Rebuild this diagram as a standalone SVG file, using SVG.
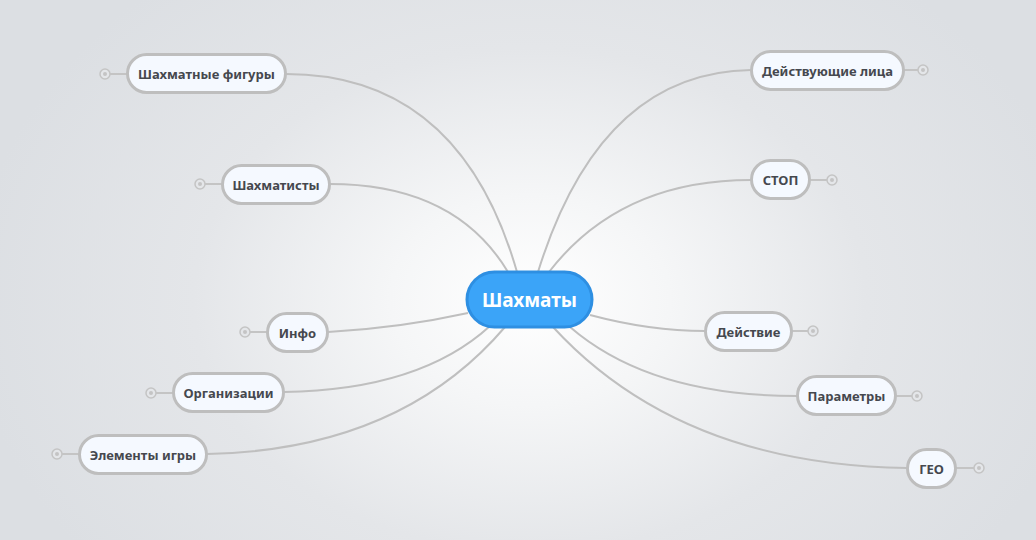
<svg xmlns="http://www.w3.org/2000/svg" width="1036" height="540" viewBox="0 0 1036 540">
<defs>
<radialGradient id="bg" cx="530" cy="300" r="560" gradientUnits="userSpaceOnUse" gradientTransform="translate(530 300) scale(1 0.75) translate(-530 -300)">
<stop offset="0" stop-color="#ffffff"/>
<stop offset="0.25" stop-color="#f5f6f7"/>
<stop offset="0.6" stop-color="#e4e6e9"/>
<stop offset="1" stop-color="#dcdfe3"/>
</radialGradient>
<style>
.conn{fill:none;stroke:#bfbfbf;stroke-width:2}
.node rect{fill:#f5f9ff;stroke:#bebebe;stroke-width:3}
.node text{font-family:"Noto Sans","Liberation Sans",sans-serif;font-weight:bold;font-size:13px;fill:#45484e;text-anchor:middle;dominant-baseline:central}
.stub{stroke:#c4c4c4;stroke-width:2}
.col{fill:#e4e6e9;stroke:#c4c4c4;stroke-width:1.5}
.dot{fill:#c4c4c4}
.root rect{fill:#3ba4f8;stroke:#2e8fe2;stroke-width:3}
.root text{font-family:"Noto Sans","Liberation Sans",sans-serif;font-weight:bold;font-size:19px;fill:#ffffff;text-anchor:middle;dominant-baseline:central}
</style>
</defs>
<rect width="1036" height="540" fill="url(#bg)"/>
<g id="connectors">
<path class="conn" d="M286,74 Q460,74 517,272"/>
<path class="conn" d="M330,184 Q455,184 508,272"/>
<path class="conn" d="M328,332 Q400,328 468,313"/>
<path class="conn" d="M284,392 Q420,390 490,326"/>
<path class="conn" d="M207,454 Q400,450 505,327"/>
<path class="conn" d="M751,70 Q600,72 538,272"/>
<path class="conn" d="M751,180 Q620,180 549,272"/>
<path class="conn" d="M705,331 Q650,331 590,315"/>
<path class="conn" d="M797,396 Q650,396 570,327"/>
<path class="conn" d="M907,468 Q680,465 553,327"/>
</g>
<g id="root" class="root">
<rect x="467" y="272" width="125" height="55" rx="27.5"/>
<text x="529.5" y="299.5">Шахматы</text>
</g>
<g id="n1" class="node">
<line class="stub" x1="110" y1="74" x2="127" y2="74"/><circle class="col" cx="105" cy="74" r="5"/><circle class="dot" cx="105" cy="74" r="2"/>
<rect x="127.5" y="54.5" width="158" height="38" rx="19"/>
<text x="206.5" y="73.5">Шахматные фигуры</text>
</g>
<g id="n2" class="node">
<line class="stub" x1="205" y1="184" x2="222" y2="184"/><circle class="col" cx="200" cy="184" r="5"/><circle class="dot" cx="200" cy="184" r="2"/>
<rect x="222.5" y="165.5" width="107" height="38" rx="19"/>
<text x="276" y="184.5">Шахматисты</text>
</g>
<g id="n3" class="node">
<line class="stub" x1="250" y1="332" x2="267" y2="332"/><circle class="col" cx="245" cy="332" r="5"/><circle class="dot" cx="245" cy="332" r="2"/>
<rect x="267.5" y="313.5" width="60" height="38" rx="19"/>
<text x="297.5" y="332.5">Инфо</text>
</g>
<g id="n4" class="node">
<line class="stub" x1="156" y1="393" x2="173" y2="393"/><circle class="col" cx="151" cy="393" r="5"/><circle class="dot" cx="151" cy="393" r="2"/>
<rect x="173.5" y="373.5" width="110" height="38" rx="19"/>
<text x="228.5" y="392.5">Организации</text>
</g>
<g id="n5" class="node">
<line class="stub" x1="62" y1="454" x2="79" y2="454"/><circle class="col" cx="57" cy="454" r="5"/><circle class="dot" cx="57" cy="454" r="2"/>
<rect x="79.5" y="435.5" width="127" height="38" rx="19"/>
<text x="143" y="454.5">Элементы игры</text>
</g>
<g id="n6" class="node">
<line class="stub" x1="904" y1="70" x2="918" y2="70"/><circle class="col" cx="923" cy="70" r="5"/><circle class="dot" cx="923" cy="70" r="2"/>
<rect x="751.5" y="51.5" width="152" height="38" rx="19"/>
<text x="827.5" y="70.5">Действующие лица</text>
</g>
<g id="n7" class="node">
<line class="stub" x1="810" y1="180" x2="827" y2="180"/><circle class="col" cx="832" cy="180" r="5"/><circle class="dot" cx="832" cy="180" r="2"/>
<rect x="751.5" y="160.5" width="58" height="38" rx="19"/>
<text x="780.5" y="179.5">СТОП</text>
</g>
<g id="n8" class="node">
<line class="stub" x1="792" y1="331" x2="808" y2="331"/><circle class="col" cx="813" cy="331" r="5"/><circle class="dot" cx="813" cy="331" r="2"/>
<rect x="705.5" y="312.5" width="86" height="38" rx="19"/>
<text x="748.5" y="331.5">Действие</text>
</g>
<g id="n9" class="node">
<line class="stub" x1="896" y1="396" x2="912" y2="396"/><circle class="col" cx="917" cy="396" r="5"/><circle class="dot" cx="917" cy="396" r="2"/>
<rect x="797.5" y="376.5" width="98" height="38" rx="19"/>
<text x="846.5" y="395.5">Параметры</text>
</g>
<g id="n10" class="node">
<line class="stub" x1="956" y1="468" x2="974" y2="468"/><circle class="col" cx="979" cy="468" r="5"/><circle class="dot" cx="979" cy="468" r="2"/>
<rect x="907.5" y="449.5" width="48" height="38" rx="19"/>
<text x="931.5" y="468.5">ГЕО</text>
</g>
</svg>
